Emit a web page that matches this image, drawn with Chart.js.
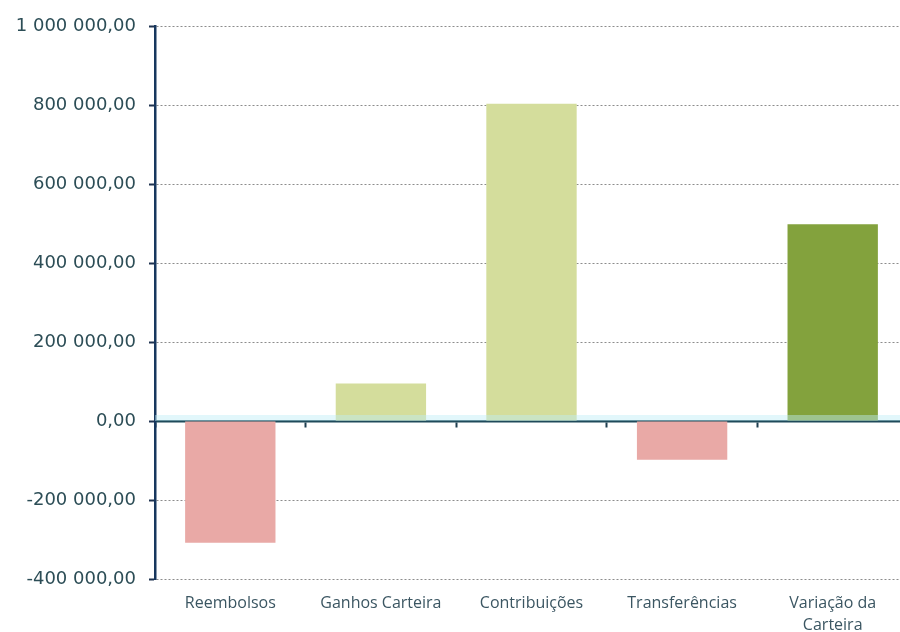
<!DOCTYPE html>
<html>
<head>
<meta charset="utf-8">
<script src="https://cdn.jsdelivr.net/npm/chart.js@4/dist/chart.umd.min.js"></script>
<style>
  html, body { margin: 0; padding: 0; background: #ffffff; overflow: hidden; }
  #wrap { width: 908px; height: 632px; position: relative; }
</style>
</head>
<body>
<div id="wrap"><canvas id="c"></canvas></div>
<script>
// ---- data ----
const categories = ['Reembolsos', 'Ganhos Carteira', 'Contribuições', 'Transferências', ['Variação da', 'Carteira']];
const values = [-308000, 95000, 803000, -98000, 498000];
const yMin = -400000;
const yMax = 1000000;
const yStep = 200000;

// ---- styles ----
const barColors = ['#e9a9a6', '#d4dd9c', '#d4dd9c', '#e9a9a6', '#83a23d'];

function fmt(v) {
  const neg = v < 0;
  const s = Math.abs(v).toFixed(2);
  let [i, d] = s.split('.');
  i = i.replace(/\B(?=(\d{3})+(?!\d))/g, ' ');
  return (neg ? '-' : '') + i + ',' + d;
}

const zeroBand = {
  id: 'zeroBand',
  afterDatasetsDraw(chart) {
    const { ctx, chartArea, scales } = chart;
    const y0 = scales.y.getPixelForValue(0);
    ctx.save();
    ctx.fillStyle = 'rgba(190, 238, 246, 0.45)';
    ctx.fillRect(chartArea.left, y0 - 6, chartArea.right - chartArea.left, 6);
    ctx.restore();
  }
};

new Chart(document.getElementById('c'), {
  type: 'bar',
  data: {
    labels: categories,
    datasets: [{
      data: values,
      backgroundColor: barColors,
      borderWidth: 0,
      barPercentage: 0.6,
      categoryPercentage: 1.0
    }]
  },
  options: {
    responsive: true,
    maintainAspectRatio: false,
    animation: false,
    layout: { padding: { top: 26, right: 0, bottom: 0, left: 0 } },
    plugins: { legend: { display: false }, tooltip: { enabled: false } },
    scales: {
      x: {
        position: 'bottom',
        grid: { display: false, drawTicks: false },
        border: { display: false },
        ticks: {
          color: '#3b5662',
          font: { family: 'Open Sans', size: 16, lineHeight: 1.38 },
          padding: 13,
          maxRotation: 0,
          autoSkip: false
        },
        afterFit(scale) { scale.height = 53; }
      },
      x0: {
        type: 'category',
        position: { y: 0 },
        z: 1,
        ticks: { display: false },
        grid: {
          drawOnChartArea: false,
          drawTicks: true,
          tickLength: 5,
          tickColor: '#1f3f50',
          tickWidth: 2
        },
        border: { display: true, color: '#1f4a5a', width: 2.5 }
      },
      y: {
        min: yMin,
        max: yMax,
        ticks: {
          stepSize: yStep,
          color: '#2c4d56',
          font: { family: 'DejaVu Sans', size: 18 },
          padding: 13,
          callback: (v) => fmt(v)
        },
        grid: {
          color: '#8c8c8c',
          lineWidth: 1,
          drawTicks: true,
          tickLength: 6,
          tickColor: '#1f3350',
          tickWidth: 2,
          tickBorderDash: [20, 0]
        },
        border: { display: true, color: '#17375e', width: 2.5, dash: [2, 2] },
        afterFit(scale) { scale.width = 155; }
      }
    }
  },
  plugins: [zeroBand]
});
</script>
</body>
</html>
